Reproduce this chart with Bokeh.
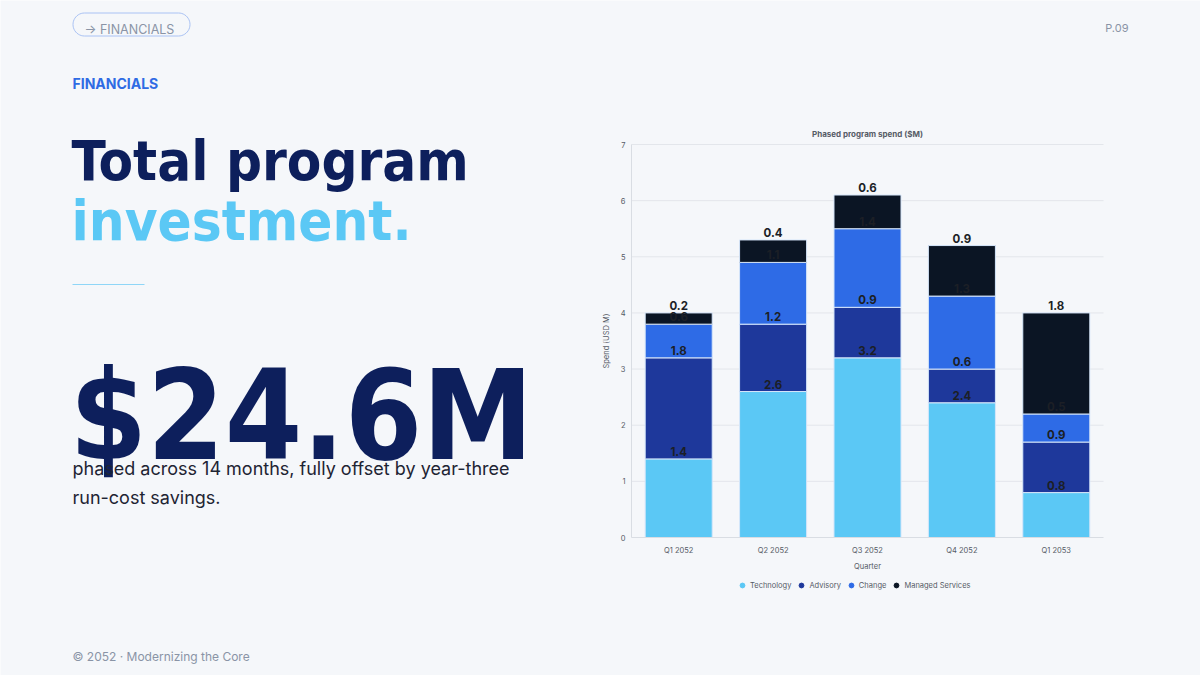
import numpy as np
from bokeh.plotting import figure
from bokeh.models import (Range1d, Legend, LegendItem, ColumnDataSource,
                          FixedTicker, LinearAxis)
from bokeh.core.properties import value
from bokeh.embed import file_html
from bokeh.resources import INLINE

# ---- data ----
quarters = ["Q1 2052", "Q2 2052", "Q3 2052", "Q4 2052", "Q1 2053"]
technology = [1.4, 2.6, 3.2, 2.4, 0.8]
advisory = [1.8, 1.2, 0.9, 0.6, 0.9]
change = [0.6, 1.1, 1.4, 1.3, 0.5]
managed = [0.2, 0.4, 0.6, 0.9, 1.8]
series_names = ["Technology", "Advisory", "Change", "Managed Services"]
series_keys = ["technology", "advisory", "change", "managed"]
series_colors = ["#5BC8F5", "#1E389B", "#2E6BE6", "#0B1524"]
y_ticks = [0, 1, 2, 3, 4, 5, 6, 7]
y_max = 7

BG = "#F5F7FA"
NAVY = "#0D1F5C"
SKY = "#5BC8F5"
GRAY = "#8A94A6"
AXC = "#555B66"
FONT = value("Inter")
HEAVY = value("'Liberation Sans Narrow', 'DejaVu Sans Condensed', 'Roboto Condensed', Inter, sans-serif")

W, H = 1200, 675
# chart plotting area on the page (pixels)
FL, FR, FT, FB = 631, 1103, 144, 537

n = len(quarters)
sx = (FR - FL) / n
sy = (FB - FT) / y_max

p = figure(width=W, height=H, x_range=Range1d(0, W), y_range=Range1d(H, 0),
           x_axis_type=None, y_axis_type=None, output_backend="svg",
           toolbar_location=None, min_border=0)
p.grid.visible = False
p.outline_line_color = None
p.background_fill_color = BG
p.border_fill_color = BG

# chart coordinate system: quarter index 0..n, spend 0..y_max
p.extra_x_ranges = {"cx": Range1d(-FL / sx, n + (W - FR) / sx)}
p.extra_y_ranges = {"cy": Range1d(-(H - FB) / sy, FB / sy)}
C = dict(x_range_name="cx", y_range_name="cy")

xpos = np.arange(n) + 0.5
src = ColumnDataSource(dict(x=xpos, technology=technology, advisory=advisory,
                            change=change, managed=managed))

# grid lines
p.segment(x0=[0] * len(y_ticks[1:]), x1=[n] * len(y_ticks[1:]), y0=y_ticks[1:], y1=y_ticks[1:],
          line_color="#E3E6EB", line_width=1, **C)

p.vbar_stack(series_keys, x="x", width=0.71, color=series_colors, source=src,
             line_color="#D6E6FA", line_width=1, **C)

vals = np.array([technology, advisory, change, managed])
tops = np.cumsum(vals, axis=0)
lab_x, lab_y, lab_t = [], [], []
for i in range(vals.shape[0]):
    for j in range(n):
        lab_x.append(xpos[j])
        lab_y.append(tops[i, j])
        lab_t.append(f"{vals[i, j]:.1f}")
p.text(x=lab_x, y=lab_y, text=lab_t, text_font=FONT, text_font_size="11.5px",
       text_font_style="bold", text_color="#1C1F26", text_align="center",
       text_baseline="bottom", y_offset=-3, **C)

# axes fixed at the chart origin
xax = LinearAxis(fixed_location=0, bounds=(0, n), ticker=FixedTicker(ticks=list(xpos)),
                 major_label_overrides={float(x): q for x, q in zip(xpos, quarters)}, **C)
yax = LinearAxis(fixed_location=0, bounds=(0, y_max), ticker=FixedTicker(ticks=y_ticks), **C)
for ax in (xax, yax):
    ax.axis_line_color = "#D9DDE3"
    ax.major_tick_line_color = None
    ax.minor_tick_line_color = None
    ax.major_tick_out = 0
    ax.major_tick_in = 0
    ax.major_label_text_font = "Inter"
    ax.major_label_text_font_size = "7.5px"
    ax.major_label_text_color = AXC
xax.major_label_standoff = 8
yax.major_label_standoff = 6
p.add_layout(xax, "below")
p.add_layout(yax, "left")

# chart title and axis titles
p.text(x=[(FL + FR) / 2], y=[133], text=["Phased program spend ($M)"], text_font=FONT,
       text_font_size="8px", text_font_style="bold", text_color=AXC,
       text_align="center", text_baseline="middle")
p.text(x=[(FL + FR) / 2], y=[566], text=["Quarter"], text_font=FONT, text_font_size="7.5px",
       text_color=AXC, text_align="center", text_baseline="middle")
p.text(x=[606], y=[(FT + FB) / 2], text=["Spend (USD M)"], text_font=FONT, text_font_size="7.5px",
       text_color=AXC, text_align="center", text_baseline="middle", angle=np.pi / 2)

# legend
items = []
for name, col in zip(series_names, series_colors):
    r = p.scatter(x=[0.5], y=[-50], marker="circle", size=11, fill_color=col,
                  line_color=col, **C)
    items.append(LegendItem(label=name, renderers=[r]))
legend = Legend(items=items, orientation="horizontal", location=(736, H - 591),
                label_text_font="Inter", label_text_font_size="7.5px", label_text_color=AXC,
                glyph_width=12, glyph_height=12, label_standoff=2, spacing=4, padding=0,
                margin=0, background_fill_alpha=0, border_line_alpha=0)
p.add_layout(legend)


def rounded_rect(x0, y0, x1, y1, r):
    xs, ys = [], []
    corners = [(x1 - r, y0 + r, -90, 0), (x1 - r, y1 - r, 0, 90),
               (x0 + r, y1 - r, 90, 180), (x0 + r, y0 + r, 180, 270)]
    for cx, cy, a0, a1 in corners:
        t = np.radians(np.linspace(a0, a1, 12))
        xs += list(cx + r * np.cos(t))
        ys += list(cy + r * np.sin(t))
    xs.append(xs[0]); ys.append(ys[0])
    return xs, ys


def slide_text(x, y, text, size, color, font=FONT, style="normal", align="left"):
    p.text(x=[x], y=[y], text=[text], text_font=font, text_font_size=size,
           text_font_style=style, text_color=color, text_align=align,
           text_baseline="alphabetic")


# header
bx, by = rounded_rect(72.5, 12.5, 189.5, 35.5, 11.5)
p.line(bx, by, line_color="#A9C2F4", line_width=1)
slide_text(84, 29, "→ FINANCIALS", "12.5px", GRAY)
slide_text(1128, 27, "P.09", "11px", GRAY, align="right")

# left column
slide_text(72, 83, "FINANCIALS", "14px", "#2F6BE4", style="bold")
slide_text(71, 160, "Total program", "56px", NAVY, font=HEAVY, style="bold")
slide_text(71, 220, "investment.", "56px", SKY, font=HEAVY, style="bold")
p.line([72, 144], [284, 284], line_color="#8FD6F7", line_width=1.2)
slide_text(69, 415, "$24.6M", "124px", NAVY, font=HEAVY, style="bold")
slide_text(72, 468, "phased across 14 months, fully offset by year-three", "18px", "#1E2433")
slide_text(72, 497, "run-cost savings.", "18px", "#1E2433")
slide_text(72, 656, "© 2052 · Modernizing the Core", "12px", GRAY)

open("out.html", "w").write(file_html(p, INLINE))
